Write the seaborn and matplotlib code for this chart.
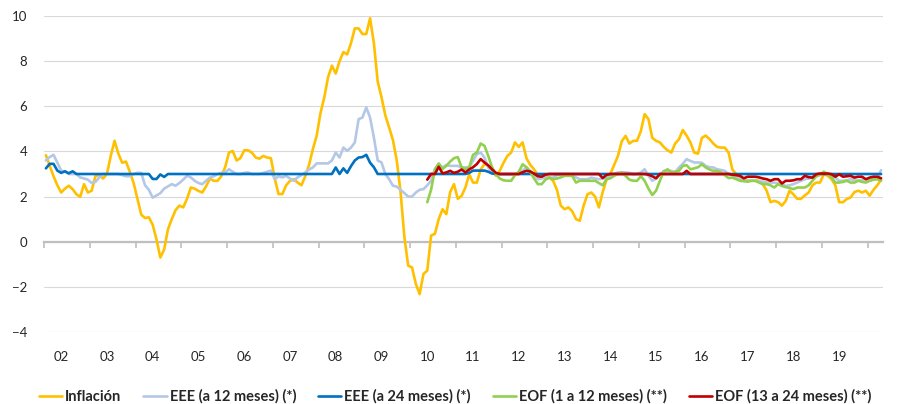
import numpy as np
import pandas as pd
import matplotlib
matplotlib.use("Agg")
import matplotlib.pyplot as plt
import seaborn as sns

# monthly data, Sep 2001 - Dec 2019 (inflation and expectations, %)
meses = pd.date_range("2001-09-01", periods=220, freq="MS")

inflacion = [
    3.83, 3.36, 2.9, 2.5, 2.18, 2.35, 2.48, 2.33, 2.1, 1.99, 2.55, 2.18,
    2.26, 2.92, 2.95, 2.8, 3.0, 3.8, 4.47, 3.9, 3.5, 3.55, 3.1, 2.6,
    1.9, 1.2, 1.05, 1.08, 0.75, 0.1, -0.7, -0.35, 0.55, 1.0, 1.4, 1.6,
    1.52, 1.9, 2.4, 2.35, 2.25, 2.18, 2.45, 2.8, 2.7, 2.7, 2.9, 3.3,
    3.95, 4.02, 3.6, 3.7, 4.05, 4.05, 3.95, 3.73, 3.68, 3.8, 3.73, 3.7,
    2.8, 2.11, 2.11, 2.5, 2.7, 2.77, 2.62, 2.5, 2.9, 3.4, 4.1, 4.7,
    5.7, 6.4, 7.3, 7.8, 7.45, 8.0, 8.4, 8.3, 8.8, 9.45, 9.45, 9.2,
    9.2, 9.9, 8.8, 7.1, 6.4, 5.6, 5.06, 4.5, 3.6, 2.2, 0.2, -1.06,
    -1.14, -1.87, -2.32, -1.43, -1.28, 0.27, 0.35, 1.0, 1.44, 1.22, 2.2, 2.55,
    1.9, 2.03, 2.4, 2.99, 2.62, 2.62, 3.2, 3.44, 3.36, 3.3, 2.92, 3.14,
    3.5, 3.8, 3.95, 4.4, 4.2, 4.4, 3.7, 3.4, 3.21, 2.95, 2.85, 2.84,
    2.84, 2.7, 2.3, 1.6, 1.44, 1.52, 1.35, 1.0, 0.93, 1.6, 2.1, 2.18,
    2.0, 1.52, 2.2, 2.75, 3.0, 3.4, 3.8, 4.45, 4.69, 4.35, 4.47, 4.47,
    4.9, 5.65, 5.43, 4.6, 4.47, 4.4, 4.2, 4.05, 3.95, 4.35, 4.54, 4.95,
    4.7, 4.4, 3.95, 3.9, 4.6, 4.7, 4.55, 4.35, 4.2, 4.17, 4.17, 3.95,
    3.2, 3.0, 2.8, 2.77, 2.7, 2.7, 2.7, 2.7, 2.55, 2.26, 1.75, 1.81,
    1.75, 1.6, 1.81, 2.26, 2.1, 1.9, 1.9, 2.05, 2.18, 2.5, 2.62, 2.62,
    3.0, 2.92, 2.77, 2.5, 1.75, 1.75, 1.89, 1.96, 2.2, 2.26, 2.18, 2.26,
    2.04, 2.3, 2.5, 2.75,
]

eee_12 = [
    3.6, 3.75, 3.85, 3.5, 3.15, 3.1, 3.0, 3.0, 3.0, 2.85, 2.8, 2.75,
    2.6, 2.65, 2.85, 3.0, 3.0, 3.0, 3.0, 3.0, 2.95, 2.9, 2.9, 3.0,
    3.05, 3.05, 2.5, 2.3, 1.95, 2.05, 2.15, 2.35, 2.45, 2.55, 2.48, 2.6,
    2.75, 2.92, 2.85, 2.7, 2.6, 2.55, 2.7, 2.84, 2.9, 3.0, 3.05, 3.07,
    3.21, 3.1, 3.0, 3.0, 3.05, 3.07, 3.0, 3.0, 3.0, 3.05, 3.1, 3.15,
    2.77, 2.9, 2.85, 2.92, 2.8, 2.7, 2.85, 2.95, 3.07, 3.2, 3.29, 3.47,
    3.47, 3.47, 3.47, 3.6, 3.95, 3.73, 4.17, 4.03, 4.17, 4.4, 5.43, 5.5,
    5.95, 5.5, 4.62, 3.6, 3.51, 3.0, 2.77, 2.48, 2.44, 2.3, 2.15, 2.0,
    2.0, 2.18, 2.3, 2.33, 2.5, 2.7, 3.22, 3.44, 3.29, 3.4, 3.36, 3.36,
    3.36, 3.29, 3.29, 3.3, 3.58, 3.88, 3.95, 3.73, 3.29, 3.07, 3.0, 2.99,
    2.99, 2.99, 2.99, 2.99, 3.0, 3.15, 3.29, 3.14, 2.95, 2.77, 2.8, 2.84,
    2.84, 2.84, 2.95, 2.99, 2.99, 2.99, 2.92, 2.85, 2.77, 2.77, 2.77, 2.84,
    2.8, 2.77, 2.8, 2.84, 2.95, 3.0, 3.07, 3.07, 3.07, 3.05, 2.99, 3.0,
    3.07, 3.21, 2.92, 2.7, 2.8, 2.95, 3.14, 3.14, 3.14, 3.07, 3.29, 3.45,
    3.66, 3.58, 3.51, 3.51, 3.5, 3.36, 3.3, 3.29, 3.21, 3.18, 3.14, 2.99,
    2.95, 2.85, 2.77, 2.72, 2.7, 2.7, 2.7, 2.68, 2.66, 2.62, 2.62, 2.62,
    2.58, 2.55, 2.47, 2.5, 2.55, 2.62, 2.7, 2.77, 2.8, 2.84, 2.9, 2.95,
    3.07, 2.99, 2.9, 2.84, 2.7, 2.7, 2.72, 2.77, 2.72, 2.7, 2.75, 2.77,
    2.7, 2.77, 2.77, 3.17,
]

eee_24 = [
    3.25, 3.45, 3.45, 3.15, 3.05, 3.12, 3.03, 3.12, 3.0, 3.0, 3.0, 3.0,
    3.0, 3.0, 3.0, 3.0, 3.0, 3.0, 3.0, 3.0, 3.0, 3.0, 3.0, 3.0,
    3.0, 3.0, 3.0, 3.0, 2.78, 2.78, 2.98, 2.87, 3.0, 3.0, 3.0, 3.0,
    3.0, 3.0, 3.0, 3.0, 3.0, 3.0, 3.0, 3.0, 3.0, 3.0, 3.0, 3.0,
    3.0, 3.0, 3.0, 3.0, 3.0, 3.0, 3.0, 3.0, 3.0, 3.0, 3.0, 3.0,
    3.0, 3.0, 3.0, 3.0, 3.0, 3.0, 3.0, 3.0, 3.0, 3.0, 3.0, 3.0,
    3.0, 3.0, 3.0, 3.0, 3.29, 3.0, 3.25, 3.05, 3.35, 3.6, 3.73, 3.75,
    3.85, 3.5, 3.3, 3.0, 3.0, 3.0, 3.0, 3.0, 3.0, 3.0, 3.0, 3.0,
    3.0, 3.0, 3.0, 3.0, 3.0, 3.0, 3.0, 3.0, 3.0, 3.0, 3.0, 3.0,
    3.0, 3.0, 3.0, 3.05, 3.15, 3.15, 3.15, 3.15, 3.1, 3.02, 3.0, 3.0,
    3.0, 3.0, 3.0, 3.0, 3.0, 3.0, 3.0, 3.0, 3.0, 3.0, 3.0, 3.0,
    3.0, 3.0, 3.0, 3.0, 3.0, 3.0, 3.0, 3.0, 3.0, 3.0, 3.0, 3.0,
    3.0, 3.0, 3.0, 3.0, 3.0, 3.0, 3.0, 3.0, 3.0, 3.0, 3.0, 3.0,
    3.0, 3.0, 3.0, 3.0, 3.0, 3.0, 3.0, 3.0, 3.0, 3.0, 3.0, 3.0,
    3.0, 3.0, 3.0, 3.0, 3.0, 3.0, 3.0, 3.0, 3.0, 3.0, 3.0, 3.0,
    3.0, 3.0, 3.0, 3.0, 3.0, 3.0, 3.0, 3.0, 3.0, 3.0, 3.0, 3.0,
    3.0, 3.0, 3.0, 3.0, 3.0, 3.0, 3.0, 3.0, 3.0, 3.0, 3.0, 3.0,
    3.0, 3.0, 3.0, 3.0, 3.0, 3.0, 3.0, 3.0, 3.0, 3.0, 3.0, 3.0,
    3.0, 3.0, 3.0, 3.0,
]

# EOF survey starts in Jan 2010
eof_inicio = "2010-01-01"
eof_1_12 = [
    1.75, 2.3, 3.2, 3.47, 3.22, 3.36, 3.55, 3.7, 3.75, 3.3, 3.22, 3.3,
    3.85, 3.95, 4.35, 4.25, 3.8, 3.29, 3.0, 2.8, 2.72, 2.7, 2.7, 2.95,
    3.1, 3.43, 3.3, 3.1, 2.8, 2.55, 2.55, 2.75, 2.84, 2.77, 2.8, 2.85,
    2.92, 2.92, 2.92, 2.62, 2.7, 2.7, 2.7, 2.7, 2.7, 2.6, 2.5, 2.77,
    2.81, 2.92, 3.0, 3.07, 2.92, 2.75, 2.7, 2.7, 2.9, 2.7, 2.35, 2.07,
    2.26, 2.7, 3.1, 3.21, 3.07, 3.1, 3.14, 3.36, 3.39, 3.21, 3.25, 3.3,
    3.43, 3.29, 3.2, 3.14, 3.14, 3.07, 2.95, 2.82, 2.84, 2.77, 2.7, 2.68,
    2.66, 2.7, 2.7, 2.62, 2.55, 2.55, 2.5, 2.4, 2.55, 2.47, 2.42, 2.38,
    2.33, 2.4, 2.4, 2.4, 2.5, 2.7, 2.9, 2.99, 3.1, 3.0, 2.85, 2.62,
    2.62, 2.65, 2.7, 2.62, 2.62, 2.7, 2.65, 2.62, 2.7, 2.75, 2.77, 2.7,
]
eof_13_24 = [
    2.75, 3.0, 3.0, 3.32, 3.03, 3.07, 3.14, 3.05, 3.1, 3.2, 3.07, 3.2,
    3.3, 3.44, 3.66, 3.51, 3.38, 3.2, 3.05, 3.0, 3.0, 3.0, 3.0, 3.0,
    3.0, 3.08, 3.14, 3.11, 3.02, 2.9, 2.88, 2.97, 3.0, 3.0, 3.0, 3.0,
    3.0, 3.0, 3.0, 3.0, 3.0, 3.0, 3.0, 3.0, 3.0, 3.0, 2.82, 2.96,
    3.0, 3.0, 3.0, 3.0, 3.0, 3.0, 3.0, 3.0, 3.0, 3.0, 2.97, 2.9,
    2.81, 3.0, 3.0, 3.0, 3.0, 3.0, 3.0, 3.0, 3.14, 3.0, 3.0, 3.0,
    3.0, 3.0, 3.0, 3.0, 3.0, 3.0, 3.0, 3.0, 2.97, 2.95, 2.92, 2.81,
    2.88, 2.88, 2.88, 2.85, 2.8, 2.77, 2.7, 2.77, 2.77, 2.58, 2.7, 2.7,
    2.72, 2.77, 2.77, 2.92, 2.86, 2.84, 2.99, 3.02, 3.02, 3.02, 2.99, 2.88,
    2.99, 2.88, 2.9, 2.92, 2.84, 2.88, 2.88, 2.77, 2.84, 2.88, 2.88, 2.81,
]

anios = ["02", "03", "04", "05", "06", "07", "08", "09", "10",
         "11", "12", "13", "14", "15", "16", "17", "18", "19"]

series = ["Inflación", "EEE (a 12 meses) (*)", "EEE (a 24 meses) (*)",
          "EOF (1 a 12 meses) (**)", "EOF (13 a 24 meses) (**)"]
colores = ["#FFC000", "#B4C7E7", "#0070C0", "#92D050", "#C00000"]

# build long-form table
df = pd.DataFrame({"fecha": meses})
df["t"] = np.arange(len(meses))
df[series[0]] = inflacion
df[series[1]] = eee_12
df[series[2]] = eee_24
k = int(np.where(meses == pd.Timestamp(eof_inicio))[0][0])
df[series[3]] = [np.nan] * k + eof_1_12
df[series[4]] = [np.nan] * k + eof_13_24
largo = df.melt(id_vars=["fecha", "t"], value_vars=series,
                var_name="serie", value_name="valor").dropna()

sns.set_theme(style="white")
plt.rcParams["font.family"] = ["Lato", "DejaVu Sans"]

fig = plt.figure(figsize=(8.99, 4.04), dpi=100)
ax = fig.add_axes([44 / 899, 1 - 332 / 404, (883 - 44) / 899, (332 - 16) / 404])

sns.lineplot(data=largo, x="t", y="valor", hue="serie", hue_order=series,
             palette=dict(zip(series, colores)), linewidth=1.9,
             estimator=None, errorbar=None, ax=ax)

ax.set_xlim(-0.5, len(meses) - 0.5)
ax.set_ylim(-4, 10)
ax.set_yticks(range(-4, 11, 2))
ax.yaxis.grid(True, color="#D9D9D9", linewidth=0.8)
ax.set_axisbelow(True)
ax.set_xlabel("")
ax.set_ylabel("")
for s in ["left", "right", "top"]:
    ax.spines[s].set_visible(False)
ax.spines["bottom"].set_position(("data", 0))
ax.spines["bottom"].set_color("#BFBFBF")
ax.spines["bottom"].set_linewidth(1.6)
ax.spines["bottom"].set_zorder(1)

# year boundary ticks on zero line
ax.set_xticks(np.arange(-0.5, len(meses), 12))
ax.tick_params(axis="x", which="major", bottom=True, length=4, width=1.2,
               color="#BFBFBF", labelbottom=False)
ax.tick_params(axis="y", length=0, pad=12, labelsize=9.5, labelcolor="#262626")

# year labels under the plot (January of each year)
ene = [i for i, m in enumerate(meses) if m.month == 1]
sec = ax.secondary_xaxis("bottom")
sec.set_xticks(ene, labels=anios)
sec.tick_params(length=0, pad=14, labelsize=9.5, labelcolor="#262626")
sec.spines["bottom"].set_visible(False)

sns.move_legend(ax, "center", bbox_to_anchor=(0.49, -0.205), ncol=5,
                frameon=False, title=None, handlelength=1.6,
                handletextpad=0.2, columnspacing=1.5,
                prop={"weight": "bold", "size": 10.5})
for t in ax.get_legend().get_texts():
    t.set_color("#262626")

fig.savefig("out.png", dpi=100)
